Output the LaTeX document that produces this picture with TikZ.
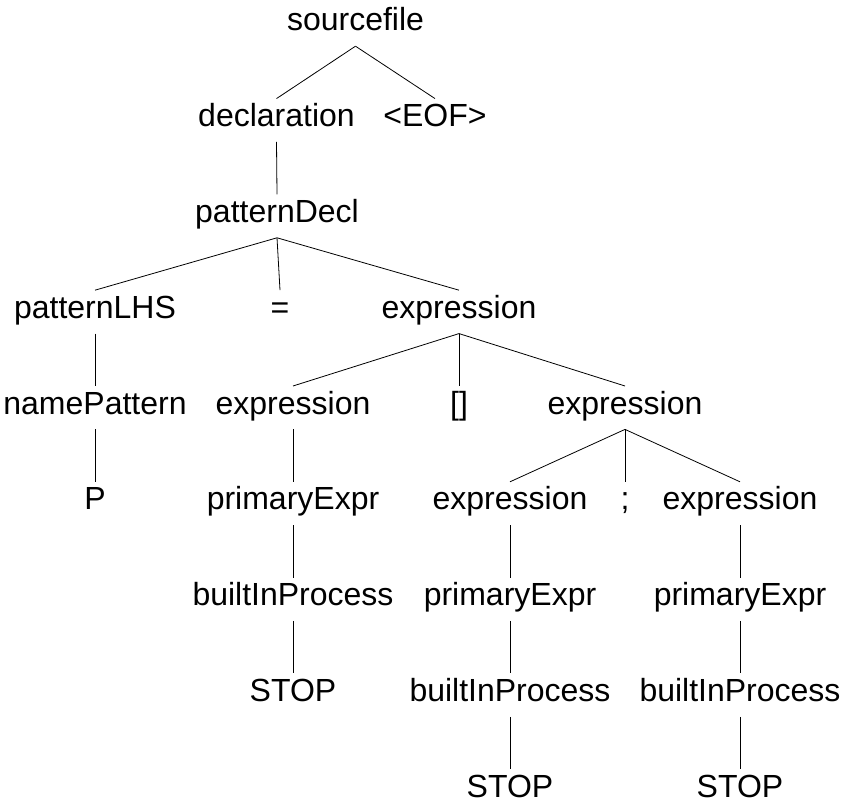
\documentclass[tikz,border=0pt]{standalone}
\usepackage{fontspec}
\setmainfont{Liberation Sans}
\begin{document}
\begin{tikzpicture}[x=1pt,y=1pt,
  tn/.style={anchor=base, inner sep=0pt, text height=28pt, text depth=15pt,
             font=\fontsize{32}{38}\selectfont},
  edge/.style={draw=black, line width=0.8pt}]
\useasboundingbox (0,0) rectangle (842,805);
% baselines of the nine levels, top to bottom
\def\lA{774}\def\lB{678.2}\def\lC{582.4}\def\lD{486.6}\def\lE{390.8}
\def\lF{295}\def\lG{199.2}\def\lH{103.4}\def\lI{7.6}
% level 0
\node[tn] (src) at (355.5,\lA) {sourcefile};
% level 1
\node[tn] (decl) at (276.5,\lB) {declaration};
\node[tn] (eof) at (435,\lB) {<EOF>};
% level 2
\node[tn] (pdecl) at (277,\lC) {patternDecl};
% level 3
\node[tn] (plhs) at (95,\lD) {patternLHS};
\node[tn] (eq) at (280,\lD) {=};
\node[tn] (ex1) at (459,\lD) {expression};
% level 4
\node[tn] (npat) at (95,\lE) {namePattern};
\node[tn] (ex2) at (293,\lE) {expression};
\node[tn] (box) at (459,\lE) {[]};
\node[tn] (ex3) at (625,\lE) {expression};
% level 5
\node[tn] (p) at (95,\lF) {P};
\node[tn] (pe1) at (293,\lF) {primaryExpr};
\node[tn] (ex4) at (510,\lF) {expression};
\node[tn] (semi) at (625,\lF) {;};
\node[tn] (ex5) at (740,\lF) {expression};
% level 6
\node[tn] (bip1) at (293,\lG) {builtInProcess};
\node[tn] (pe2) at (510,\lG) {primaryExpr};
\node[tn] (pe3) at (740,\lG) {primaryExpr};
% level 7
\node[tn] (stop1) at (293,\lH) {STOP};
\node[tn] (bip2) at (510,\lH) {builtInProcess};
\node[tn] (bip3) at (740,\lH) {builtInProcess};
% level 8
\node[tn] (stop2) at (510,\lI) {STOP};
\node[tn] (stop3) at (740,\lI) {STOP};
% edges
\draw[edge] (src.south) -- (decl.north);
\draw[edge] (src.south) -- (eof.north);
\draw[edge] (decl.south) -- (pdecl.north);
\draw[edge] (pdecl.south) -- (plhs.north);
\draw[edge] (pdecl.south) -- (eq.north);
\draw[edge] (pdecl.south) -- (ex1.north);
\draw[edge] (plhs.south) -- (npat.north);
\draw[edge] (npat.south) -- (p.north);
\draw[edge] (ex1.south) -- (ex2.north);
\draw[edge] (ex1.south) -- (box.north);
\draw[edge] (ex1.south) -- (ex3.north);
\draw[edge] (ex2.south) -- (pe1.north);
\draw[edge] (pe1.south) -- (bip1.north);
\draw[edge] (bip1.south) -- (stop1.north);
\draw[edge] (ex3.south) -- (ex4.north);
\draw[edge] (ex3.south) -- (semi.north);
\draw[edge] (ex3.south) -- (ex5.north);
\draw[edge] (ex4.south) -- (pe2.north);
\draw[edge] (pe2.south) -- (bip2.north);
\draw[edge] (bip2.south) -- (stop2.north);
\draw[edge] (ex5.south) -- (pe3.north);
\draw[edge] (pe3.south) -- (bip3.north);
\draw[edge] (bip3.south) -- (stop3.north);
\end{tikzpicture}
\end{document}
